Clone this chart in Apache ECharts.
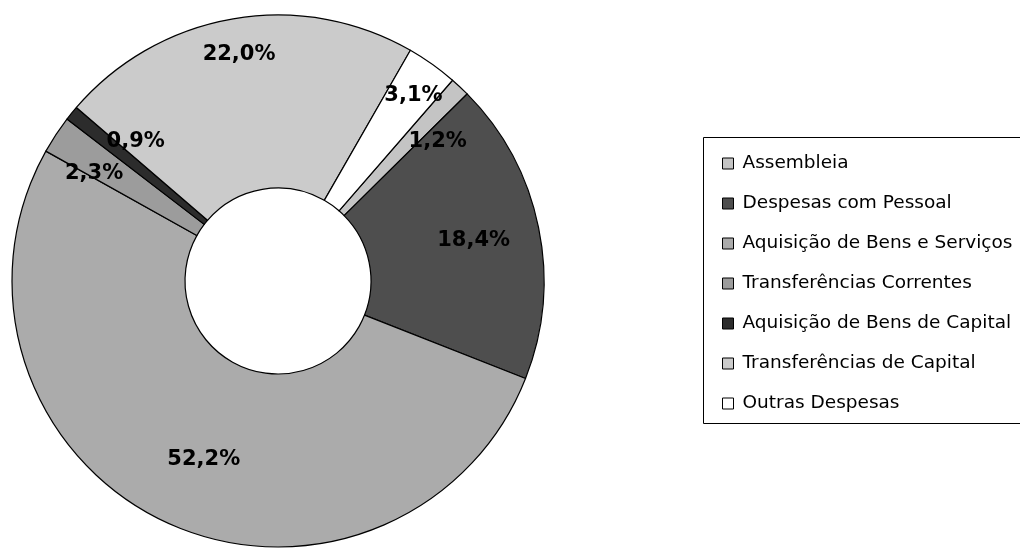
<!DOCTYPE html>
<html>
<head>
<meta charset="utf-8">
<script src="https://cdn.jsdelivr.net/npm/echarts@6/dist/echarts.min.js"></script>
<style>
html,body{margin:0;padding:0;background:#fff;}
#chart{width:1020px;height:548px;}
</style>
</head>
<body>
<div id="chart"></div>
<script>
const categories = [
  "Assembleia",
  "Despesas com Pessoal",
  "Aquisição de Bens e Serviços",
  "Transferências Correntes",
  "Aquisição de Bens de Capital",
  "Transferências de Capital",
  "Outras Despesas"
];
const shares = [1.2, 18.4, 52.2, 2.3, 0.9, 22.0, 3.1];
const colors = ["#c4c4c4", "#4e4e4e", "#ababab", "#9c9c9c", "#2c2c2c", "#cbcbcb", "#ffffff"];
// small label nudges (px) to mimic the original spreadsheet label placement
const labelNudge = [[14, 16], [-13, 2], [17, -14], [-6, 10], [23, -5], [-3, -17], [12, -12]];

const fmt = v => v.toFixed(1).replace('.', ',') + '%';

const pieData = categories.map((name, i) => ({
  name: name,
  value: shares[i],
  itemStyle: { color: colors[i] }
}));
const labelData = categories.map((name, i) => ({
  name: name,
  value: shares[i]
}));

const chart = echarts.init(document.getElementById('chart'), null, { renderer: 'canvas' });
chart.setOption({
  animation: false,
  backgroundColor: '#ffffff',
  graphic: [{
    type: 'rect',
    left: 703, top: 137,
    shape: { width: 340, height: 286 },
    style: { fill: '#fff', stroke: '#000', lineWidth: 1 },
    z: -1, silent: true
  }],
  legend: {
    orient: 'vertical',
    left: 703,
    top: 137,
    data: categories,
    icon: 'rect',
    itemWidth: 11,
    itemHeight: 11,
    itemGap: 21,
    padding: [17, 10, 12, 19],
    textStyle: { fontFamily: 'DejaVu Sans', fontSize: 18.5, lineHeight: 19, color: '#000', padding: [0, 0, 0, 4] },
    itemStyle: { borderColor: '#000', borderWidth: 1 },
    selectedMode: false
  },
  series: [
    {
      type: 'pie',
      center: [278, 281],
      radius: [93, 266],
      startAngle: 49,
      clockwise: true,
      avoidLabelOverlap: false,
      silent: true,
      itemStyle: { borderColor: '#000', borderWidth: 1.2 },
      label: { show: false },
      labelLine: { show: false },
      data: pieData
    },
    {
      type: 'pie',
      center: [278, 281],
      radius: [154, 266],
      startAngle: 49,
      clockwise: true,
      avoidLabelOverlap: false,
      silent: true,
      z: 5,
      itemStyle: { color: 'rgba(0,0,0,0)', borderWidth: 0 },
      label: {
        show: true,
        position: 'inside',
        formatter: p => fmt(p.value),
        fontFamily: 'DejaVu Sans',
        fontWeight: 'bold',
        fontSize: 21,
        color: '#000'
      },
      labelLayout: p => ({
        hideOverlap: false,
        dx: labelNudge[p.dataIndex][0],
        dy: labelNudge[p.dataIndex][1]
      }),
      labelLine: { show: false },
      legendHoverLink: false,
      data: labelData
    }
  ]
});
</script>
</body>
</html>
